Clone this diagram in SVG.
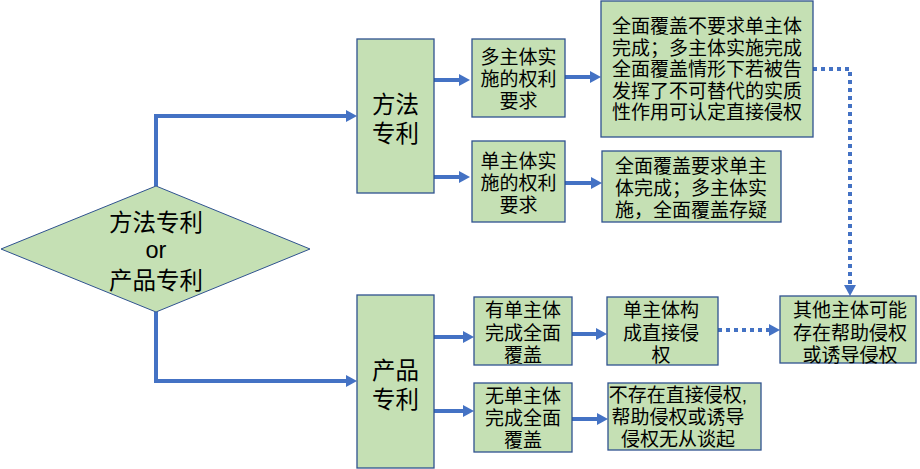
<svg xmlns="http://www.w3.org/2000/svg" width="920" height="469" viewBox="0 0 920 469">
<style>
.box{fill:#C5E0B4;stroke:#2F528F;stroke-width:1.3}
.t{font-family:"Liberation Sans","Noto Sans CJK SC",sans-serif;fill:#000;text-anchor:middle}
.s{font-size:19px}
.l{font-size:23.5px}
.c{fill:none;stroke:#4472C4;stroke-width:4;marker-end:url(#ah)}
.d{stroke-dasharray:4 4}
</style>
<defs>
<marker id="ah" markerUnits="userSpaceOnUse" markerWidth="12" markerHeight="12" refX="3" refY="6" orient="auto">
<path d="M0,0 L11,6 L0,12 z" fill="#4472C4"/>
</marker>
</defs>
<g id="connectors">
<path class="c" d="M156,186 V116 H349"/>
<path class="c" d="M156,312 V381 H349"/>
<path class="c" d="M434,80 H462"/>
<path class="c" d="M434,177 H462"/>
<path class="c" d="M565,77 H593"/>
<path class="c" d="M565,183 H594"/>
<path class="c" d="M434,337 H466"/>
<path class="c" d="M434,411 H466"/>
<path class="c" d="M572,334 H599"/>
<path class="c" d="M572,419 H600"/>
<path class="c d" d="M813,69 H850 V288"/>
<path class="c d" d="M718,330 H772"/>
</g>
<g id="decision">
<polygon points="1,249 156,186 310,249 156,312" fill="#C5E0B4" stroke="#2F528F" stroke-width="1"/>
<text class="t l"><tspan x="156" y="230.5">方法专利</tspan><tspan x="156" y="257.5">or</tspan><tspan x="156" y="289">产品专利</tspan></text>
</g>
<g id="method">
<rect class="box" x="357" y="39" width="77" height="154"/>
<text class="t l"><tspan x="395.5" y="113">方法</tspan><tspan x="395.5" y="142">专利</tspan></text>
</g>
<g id="product">
<rect class="box" x="357" y="295" width="77" height="173"/>
<text class="t l"><tspan x="395.5" y="379">产品</tspan><tspan x="395.5" y="408">专利</tspan></text>
</g>
<g id="multi-claim">
<rect class="box" x="472" y="39" width="93" height="78"/>
<text class="t s"><tspan x="518.5" y="64">多主体实</tspan><tspan x="518.5" y="86">施的权利</tspan><tspan x="518.5" y="108">要求</tspan></text>
</g>
<g id="single-claim">
<rect class="box" x="472" y="141" width="93" height="81"/>
<text class="t s"><tspan x="518.5" y="168">单主体实</tspan><tspan x="518.5" y="190">施的权利</tspan><tspan x="518.5" y="212">要求</tspan></text>
</g>
<g id="multi-result">
<rect class="box" x="601" y="1" width="212" height="136"/>
<text class="t s"><tspan x="707" y="33">全面覆盖不要求单主体</tspan><tspan x="707" y="54.5">完成；多主体实施完成</tspan><tspan x="707" y="76">全面覆盖情形下若被告</tspan><tspan x="707" y="97.5">发挥了不可替代的实质</tspan><tspan x="707" y="119">性作用可认定直接侵权</tspan></text>
</g>
<g id="single-result">
<rect class="box" x="602" y="151" width="179" height="71"/>
<text class="t s"><tspan x="691" y="173">全面覆盖要求单主</tspan><tspan x="691" y="195">体完成；多主体实</tspan><tspan x="691" y="217">施，全面覆盖存疑</tspan></text>
</g>
<g id="has-single">
<rect class="box" x="474" y="297" width="98" height="68"/>
<text class="t s"><tspan x="523" y="317">有单主体</tspan><tspan x="523" y="339.5">完成全面</tspan><tspan x="523" y="362">覆盖</tspan></text>
</g>
<g id="no-single">
<rect class="box" x="474" y="383" width="98" height="69"/>
<text class="t s"><tspan x="523" y="403">无单主体</tspan><tspan x="523" y="425">完成全面</tspan><tspan x="523" y="447">覆盖</tspan></text>
</g>
<g id="direct">
<rect class="box" x="607" y="297" width="111" height="68"/>
<text class="t s"><tspan x="661" y="317">单主体构</tspan><tspan x="661" y="339.5">成直接侵</tspan><tspan x="661" y="362">权</tspan></text>
</g>
<g id="others">
<rect class="box" x="780" y="296" width="136" height="67"/>
<text class="t s"><tspan x="850" y="317">其他主体可能</tspan><tspan x="850" y="339.5">存在帮助侵权</tspan><tspan x="850" y="362">或诱导侵权</tspan></text>
</g>
<g id="none">
<rect class="box" x="608" y="383" width="153" height="67"/>
<text class="t s"><tspan x="678" y="402">不存在直接侵权,</tspan><tspan x="678" y="424">帮助侵权或诱导</tspan><tspan x="678" y="446">侵权无从谈起</tspan></text>
</g>
</svg>
